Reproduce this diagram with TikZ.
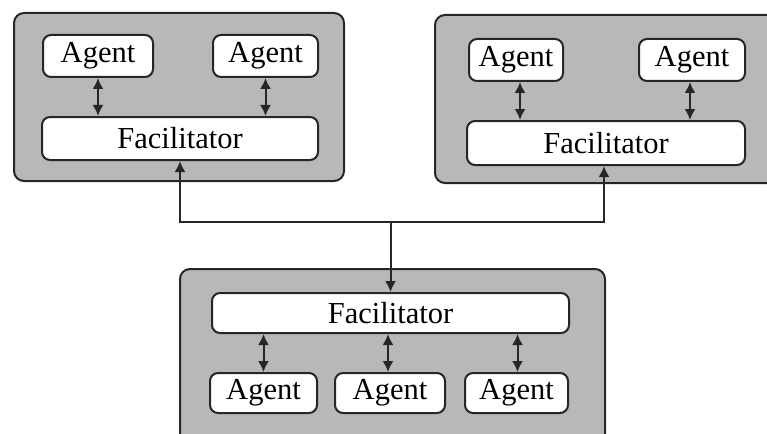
\documentclass[tikz,border=0pt]{standalone}
\usepackage{fontspec}
\setmainfont{Liberation Serif}
\usetikzlibrary{arrows.meta}
\begin{document}
\begin{tikzpicture}[x=1pt,y=-1pt,
  panel/.style={draw=black!85,line width=2pt,fill=black!28,rounded corners=10pt},
  unit/.style={draw=black!85,line width=2pt,fill=white,rounded corners=8pt,
    inner sep=0pt,font=\fontsize{30.5}{32}\selectfont},
  link/.style={line width=2pt,draw=black!85,
    {Latex[length=11pt,width=11pt]}-{Latex[length=11pt,width=11pt]}},
  feed/.style={line width=2pt,draw=black!85,-{Latex[length=11pt,width=11pt]}}]
\useasboundingbox (0,0) rectangle (767,433);
\begin{scope}
\clip (0,0) rectangle (767,433);
% three host panels
\draw[panel] (14,13) rectangle (344,181);
\draw[panel] (435,15) rectangle (790,183);
\draw[panel] (180,269) rectangle (605,450);
\end{scope}
% left panel
\node[unit,minimum width=110pt,minimum height=42pt] (a1) at (98,56) {Agent};
\node[unit,minimum width=105pt,minimum height=42pt] (a2) at (265.5,56) {Agent};
\node[unit,minimum width=276pt,minimum height=43pt] (f1) at (180,138.5) {Facilitator};
% right panel
\node[unit,minimum width=94pt,minimum height=42pt] (a3) at (516,60) {Agent};
\node[unit,minimum width=106pt,minimum height=42pt] (a4) at (692,60) {Agent};
\node[unit,minimum width=278pt,minimum height=44pt] (f2) at (606,143) {Facilitator};
% bottom panel
\node[unit,minimum width=357pt,minimum height=40pt] (f3) at (390.5,313) {Facilitator};
\node[unit,minimum width=107pt,minimum height=40pt] (a5) at (263.5,393) {Agent};
\node[unit,minimum width=110pt,minimum height=40pt] (a6) at (390,393) {Agent};
\node[unit,minimum width=103pt,minimum height=40pt] (a7) at (516.5,393) {Agent};
% agent <-> facilitator links
\draw[link] (a1.south) -- (a1.south |- f1.north);
\draw[link] (a2.south) -- (a2.south |- f1.north);
\draw[link] ([xshift=4pt]a3.south) -- ([xshift=4pt]a3.south |- f2.north);
\draw[link] ([xshift=-2pt]a4.south) -- ([xshift=-2pt]a4.south |- f2.north);
\draw[link] (a5.north) -- (a5.north |- f3.south);
\draw[link] ([xshift=-2pt]a6.north) -- ([xshift=-2pt]a6.north |- f3.south);
\draw[link] ([xshift=1pt]a7.north) -- ([xshift=1pt]a7.north |- f3.south);
% facilitator network
\coordinate (j) at (f3.north |- 0,222);
\draw[link] (f1.south) |- (j) -| ([xshift=-2pt]f2.south);
\draw[feed] (j) -- (f3.north);
\end{tikzpicture}
\end{document}
